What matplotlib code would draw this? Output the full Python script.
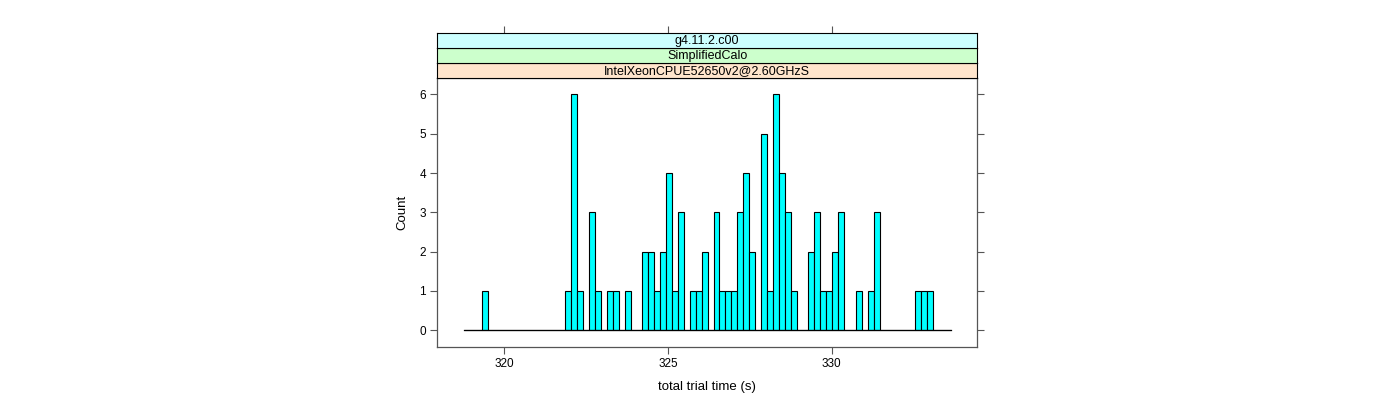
import matplotlib
matplotlib.use("Agg")
import matplotlib.pyplot as plt

plt.rcParams['font.family'] = ['Liberation Sans', 'DejaVu Sans']

# histogram: 82 equal bins
bin_start = 318.78
bin_width = 0.1812
counts = [0, 0, 0, 1, 0, 0, 0, 0, 0, 0,
          0, 0, 0, 0, 0, 0, 0, 1, 6, 1,
          0, 3, 1, 0, 1, 1, 0, 1, 0, 0,
          2, 2, 1, 2, 4, 1, 3, 0, 1, 1,
          2, 0, 3, 1, 1, 1, 3, 4, 2, 0,
          5, 1, 6, 4, 3, 1, 0, 0, 2, 3,
          1, 1, 2, 3, 0, 0, 1, 0, 1, 3,
          0, 0, 0, 0, 0, 0, 1, 1, 1, 0,
          0, 0]

x_ticks = [320, 325, 330]
y_ticks = [0, 1, 2, 3, 4, 5, 6]
strip_labels = ['IntelXeonCPUE52650v2@2.60GHzS', 'SimplifiedCalo', 'g4.11.2.c00']
strip_colors = ['#ffe5cc', '#ccffcc', '#ccffff']
xlim = (317.94, 334.45)
ylim = (-0.42, 6.42)

frame_col = '#555555'

fig = plt.figure(figsize=(14, 4), dpi=100)
left, width = 437 / 1400, (977.3 - 437) / 1400
ax = fig.add_axes([left, 1 - 346.7 / 400, width, (346.7 - 78) / 400])

edges = [bin_start + i * bin_width for i in range(len(counts))]
ax.bar(edges, counts, width=bin_width, align='edge', color='#00ffff',
       edgecolor='black', linewidth=0.8)
ax.plot([edges[0], edges[-1] + bin_width], [0, 0], color='black', lw=0.9)

ax.set_xlim(*xlim)
ax.set_ylim(*ylim)
ax.set_xticks(x_ticks)
ax.set_yticks(y_ticks)
ax.tick_params(axis='both', direction='out', length=5, width=0.8,
               color=frame_col, labelsize=8.5, pad=3)
ax.tick_params(axis='y', right=True, left=True)
for s in ax.spines.values():
    s.set_color(frame_col)
    s.set_linewidth(0.9)
ax.set_xlabel('total trial time (s)', fontsize=9.5, labelpad=8)
ax.set_ylabel('Count', fontsize=9.5, labelpad=8)

# lattice style strips above the panel
for i, (lab, col) in enumerate(zip(strip_labels, strip_colors)):
    bottom = 1 - (78 - 15 * i) / 400
    sax = fig.add_axes([left, bottom, width, 15 / 400])
    sax.set_facecolor(col)
    sax.set_xlim(*xlim)
    sax.set_ylim(0, 1)
    sax.set_yticks([])
    if i == len(strip_labels) - 1:
        sax.set_xticks(x_ticks)
        sax.tick_params(axis='x', top=True, bottom=False, labeltop=False,
                        labelbottom=False, direction='out', length=5,
                        width=0.8, color=frame_col)
    else:
        sax.set_xticks([])
    for s in sax.spines.values():
        s.set_color('black')
        s.set_linewidth(0.8)
    sax.text(0.5, 0.45, lab, transform=sax.transAxes, ha='center',
             va='center', fontsize=9)

fig.savefig('out.png', dpi=100)
